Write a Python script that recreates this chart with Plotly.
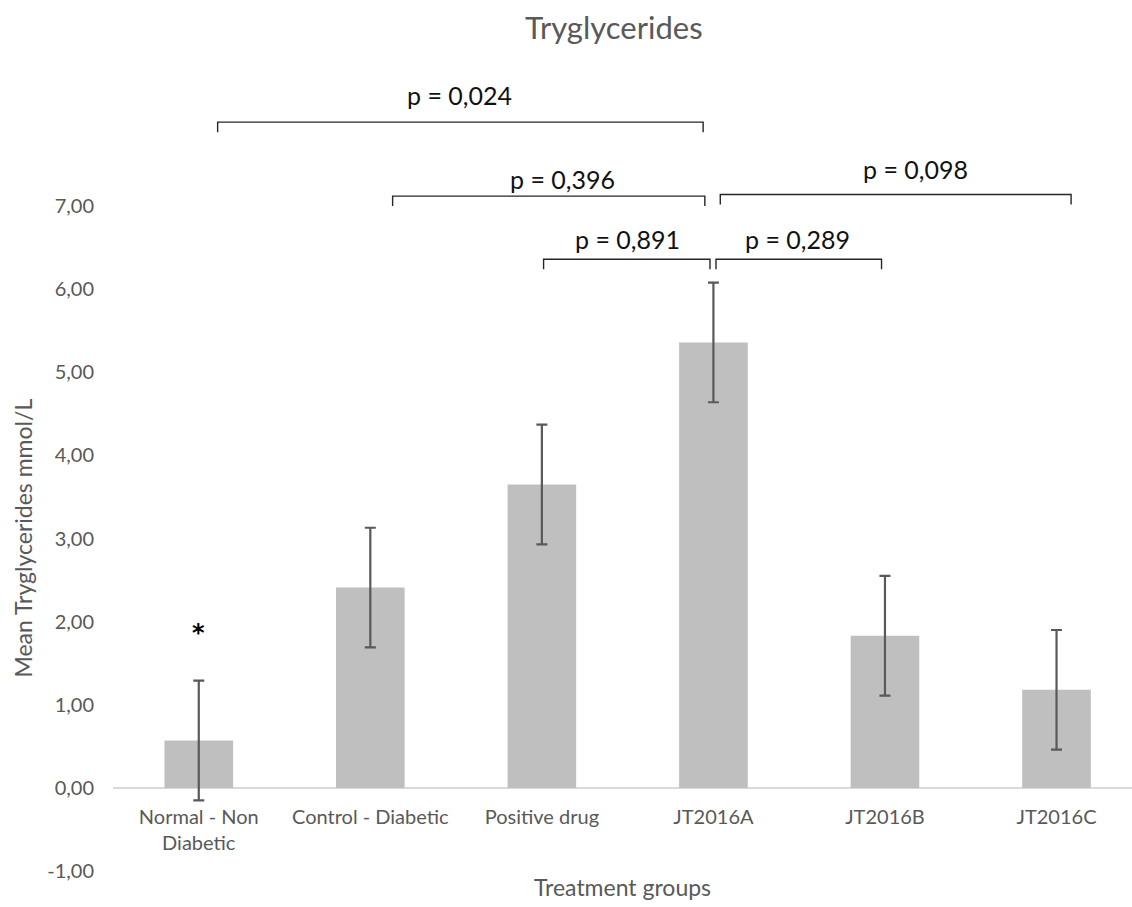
import plotly.graph_objects as go

# ---- data -------------------------------------------------------------
groups = ["Normal - Non<br>Diabetic", "Control - Diabetic", "Positive drug",
          "JT2016A", "JT2016B", "JT2016C"]
mean_tg = [0.57, 2.41, 3.65, 5.36, 1.83, 1.18]
err_tg = [0.72, 0.72, 0.72, 0.72, 0.72, 0.72]
y_ticks = [-1, 0, 1, 2, 3, 4, 5, 6, 7]
y_tick_text = ["-1,00", "0,00", "1,00", "2,00", "3,00", "4,00", "5,00", "6,00", "7,00"]

# pairwise comparisons (group index pairs) and their p-values
comparisons = [(0, 3), (1, 3), (2, 3), (3, 4), (3, 5)]
p_values = ["0,024", "0,396", "0,891", "0,289", "0,098"]

# ---- bracket geometry (x ends, bar height, label position) ---------------
bracket_geom = [
    dict(x0=0.11, x1=2.94, y=8.01, lx=1.52, ly=8.34),
    dict(x0=1.13, x1=2.95, y=7.12, lx=2.12, ly=7.33),
    dict(x0=2.01, x1=2.98, y=6.36, lx=2.50, ly=6.61),
    dict(x0=3.015, x1=3.98, y=6.36, lx=3.49, ly=6.61),
    dict(x0=3.04, x1=5.085, y=7.14, lx=4.18, ly=7.45),
]
tick_drop = 0.12

FONT = "Lato"
GREY_TXT = "#595959"
Y_MIN, Y_MAX = -1, 9.48

fig = go.Figure()
fig.add_trace(go.Bar(
    x=list(range(len(groups))),
    y=mean_tg,
    width=0.4,
    marker=dict(color="#BFBFBF", line=dict(width=0)),
    error_y=dict(type="data", array=err_tg, visible=True,
                 color="#595959", thickness=2.2, width=5.5),
    showlegend=False,
    hoverinfo="skip",
))

shapes = []
annotations = []
for (a, b), p, g in zip(comparisons, p_values, bracket_geom):
    shapes.append(dict(
        type="path", xref="x", yref="y",
        path=f"M {g['x0']} {g['y'] - tick_drop} L {g['x0']} {g['y']} "
             f"L {g['x1']} {g['y']} L {g['x1']} {g['y'] - tick_drop}",
        line=dict(color="#262626", width=1.4),
    ))
    annotations.append(dict(
        x=g["lx"], y=g["ly"], xref="x", yref="y", text=f"p = {p}",
        showarrow=False, font=dict(family=FONT, size=25, color="#111111"),
        xanchor="center", yanchor="middle",
    ))

# significance marker above the normal group
annotations.append(dict(
    x=0, y=1.86, xref="x", yref="y", text="<b>*</b>", showarrow=False,
    font=dict(family="DejaVu Sans", size=24, color="#000000"),
    xanchor="center", yanchor="middle",
))

# chart title
annotations.append(dict(
    x=0.492, y=1, xref="paper", yref="paper", yshift=-27,
    text="Tryglycerides", showarrow=False,
    font=dict(family=FONT, size=31, color=GREY_TXT),
    xanchor="center", yanchor="middle",
))
# axis titles
annotations.append(dict(
    x=0.5, y=0, xref="paper", yref="paper", yshift=-16,
    text="Treatment groups", showarrow=False,
    font=dict(family=FONT, size=23, color=GREY_TXT),
    xanchor="center", yanchor="middle",
))
annotations.append(dict(
    x=0, y=(7 + -1) / 2, xref="paper", yref="y", xshift=-90,
    text="Mean Tryglycerides mmol/L", showarrow=False, textangle=-90,
    font=dict(family=FONT, size=23, color=GREY_TXT),
    xanchor="center", yanchor="middle",
))

fig.update_layout(
    width=1132, height=907,
    margin=dict(l=113, r=0, t=0, b=36),
    paper_bgcolor="white", plot_bgcolor="white",
    shapes=shapes, annotations=annotations,
    bargap=0.6,
    xaxis=dict(
        range=[-0.5, 5.44],
        tickvals=list(range(len(groups))), ticktext=groups,
        tickfont=dict(family=FONT, size=20, color=GREY_TXT),
        showgrid=False, showline=False, zeroline=False, ticks="",
        anchor="free", position=(0 - Y_MIN) / (Y_MAX - Y_MIN),
        ticklabelstandoff=15,
    ),
    yaxis=dict(
        range=[Y_MIN, Y_MAX],
        tickvals=y_ticks, ticktext=y_tick_text,
        tickfont=dict(family=FONT, size=20, color=GREY_TXT),
        showgrid=False, showline=False, ticks="",
        zeroline=True, zerolinecolor="#D9D9D9", zerolinewidth=1.6,
        ticklabelstandoff=18,
    ),
)

fig.write_html("out.html")
